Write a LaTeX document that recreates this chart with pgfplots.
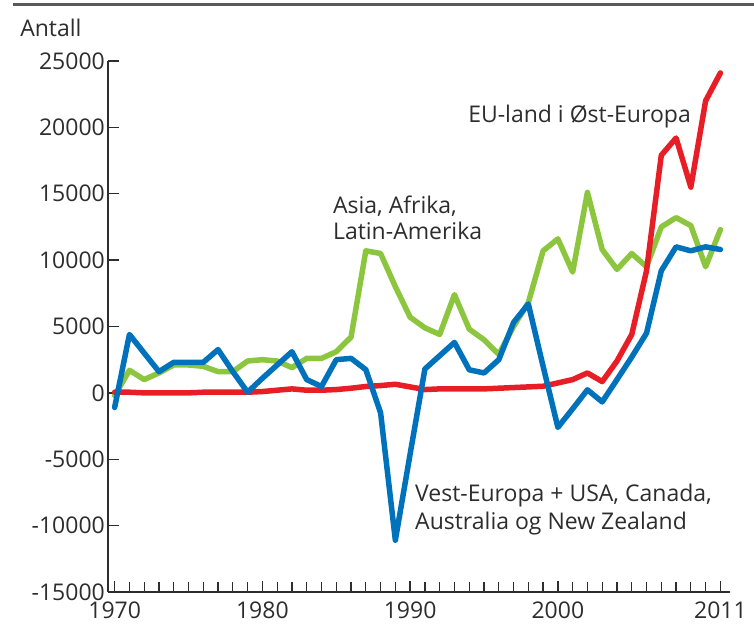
\documentclass[border=0pt]{standalone}
\usepackage{fontspec}
\setmainfont{Open Sans}
\usepackage{pgfplots}
\pgfplotsset{compat=1.18}
\usetikzlibrary{calc}
\definecolor{cred}{RGB}{232,30,38}
\definecolor{cgreen}{RGB}{140,198,63}
\definecolor{cblue}{RGB}{0,114,188}
\definecolor{ctext}{RGB}{45,45,45}
\newcommand\lab{\fontsize{23bp}{27bp}\selectfont}
\begin{document}
\begin{tikzpicture}
\begin{axis}[
  scale only axis, width=622bp, height=531bp,
  xmin=1969.55, xmax=2011.65, ymin=-15000, ymax=25000,
  axis x line*=bottom, axis y line*=left,
  axis line style={line width=1.3bp, draw=ctext},
  tick align=inside,
  major tick length=11bp, minor tick length=10bp,
  every tick/.style={line width=1.3bp, draw=ctext},
  xtick={1970,1980,1990,2000,2011},
  minor xtick={1971,...,2010},
  ytick={-15000,-10000,-5000,0,5000,10000,15000,20000,25000},
  scaled ticks=false,
  /pgf/number format/1000 sep={},
  /pgf/number format/assume math mode=true,
  xticklabel style={font=\lab, text=ctext, inner sep=1bp, yshift=-9bp},
  yticklabel style={font=\lab, text=ctext, inner sep=3bp},
  clip=false,
]
\coordinate (SW) at (rel axis cs:0,0);
\coordinate (NE) at (rel axis cs:1,1);
\addplot[cgreen, line width=5.5bp, line join=round, line cap=round] coordinates {
(1970,-200)(1971,1700)(1972,1000)(1973,1500)(1974,2100)(1975,2100)(1976,2000)(1977,1600)(1978,1600)(1979,2400)
(1980,2500)(1981,2400)(1982,1900)(1983,2600)(1984,2600)(1985,3100)(1986,4200)(1987,10700)(1988,10500)(1989,8000)
(1990,5700)(1991,4900)(1992,4400)(1993,7400)(1994,4800)(1995,4000)(1996,2900)(1997,5000)(1998,6800)(1999,10700)
(2000,11600)(2001,9100)(2002,15100)(2003,10800)(2004,9300)(2005,10500)(2006,9500)(2007,12500)(2008,13200)(2009,12600)
(2010,9500)(2011,12300)};
\addplot[cred, line width=5.5bp, line join=round, line cap=round] coordinates {
(1970,50)(1971,50)(1972,0)(1973,0)(1974,0)(1975,0)(1976,50)(1977,50)(1978,50)(1979,50)
(1980,100)(1981,200)(1982,300)(1983,200)(1984,200)(1985,250)(1986,350)(1987,480)(1988,550)(1989,650)
(1990,450)(1991,250)(1992,300)(1993,300)(1994,300)(1995,300)(1996,350)(1997,400)(1998,450)(1999,500)
(2000,750)(2001,1000)(2002,1500)(2003,850)(2004,2400)(2005,4400)(2006,9200)(2007,17900)(2008,19200)(2009,15500)
(2010,22000)(2011,24100)};
\addplot[cblue, line width=5.5bp, line join=round, line cap=round] coordinates {
(1970,-1100)(1971,4400)(1972,3000)(1973,1600)(1974,2300)(1975,2300)(1976,2300)(1977,3260)(1978,1600)(1979,50)
(1980,1100)(1981,2100)(1982,3100)(1983,1000)(1984,480)(1985,2500)(1986,2600)(1987,1750)(1988,-1500)(1989,-11100)
(1990,-4600)(1991,1800)(1992,2800)(1993,3800)(1994,1740)(1995,1500)(1996,2500)(1997,5300)(1998,6700)(1999,2000)
(2000,-2600)(2001,-1200)(2002,230)(2003,-680)(2004,1000)(2005,2700)(2006,4500)(2007,9200)(2008,11000)(2009,10700)
(2010,11000)(2011,10800)};
\node[anchor=base west, font=\lab, text=ctext, inner sep=0pt] at (axis cs:1963.6,26880) {Antall};
\node[anchor=base west, font=\lab, text=ctext, inner sep=0pt] at (axis cs:1993.92,20330) {EU-land i Øst-Europa};
\node[anchor=base west, font=\lab, text=ctext, inner sep=0pt] at (axis cs:1984.77,13480) {Asia, Afrika,};
\node[anchor=base west, font=\lab, text=ctext, inner sep=0pt] at (axis cs:1984.77,11520) {Latin-Amerika};
\node[anchor=base west, font=\lab, text=ctext, inner sep=0pt] at (axis cs:1990.33,-8210) {Vest-Europa + USA, Canada,};
\node[anchor=base west, font=\lab, text=ctext, inner sep=0pt] at (axis cs:1990.33,-10320) {Australia og New Zealand};
\end{axis}
\path[use as bounding box] ($(SW)+(-108bp,-39bp)$) rectangle ($(NE)+(24bp,61bp)$);
\draw[line width=3bp, draw=black!65] ($(SW|-NE)+(-95bp,56bp)$) -- ($(NE)+(24bp,56bp)$);
\end{tikzpicture}
\end{document}
